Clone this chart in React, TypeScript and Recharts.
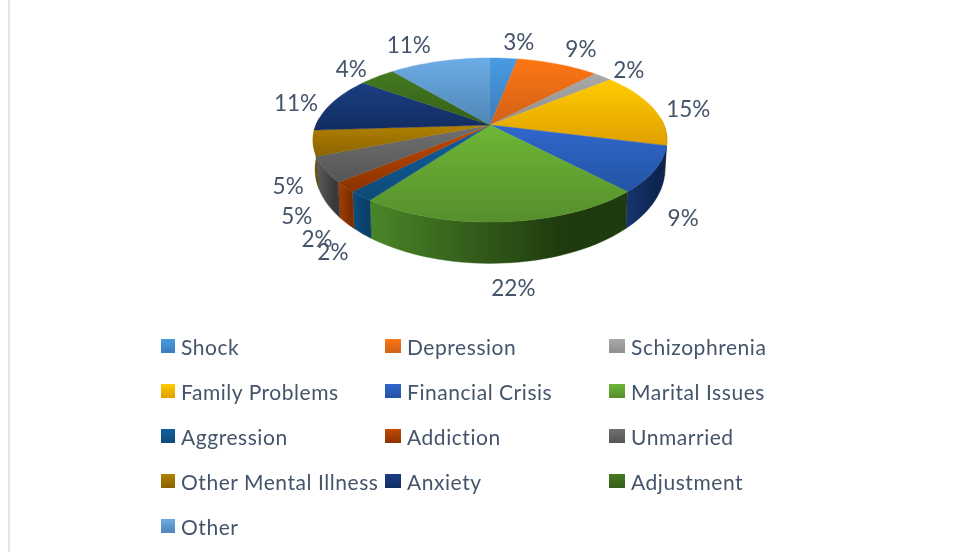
import { PieChart, Pie, Legend } from "recharts";

const categories = [
  "Shock",
  "Depression",
  "Schizophrenia",
  "Family Problems",
  "Financial Crisis",
  "Marital Issues",
  "Aggression",
  "Addiction",
  "Unmarried",
  "Other Mental Illness",
  "Anxiety",
  "Adjustment",
  "Other",
];
const shares = [3, 9, 2, 15, 9, 22, 2, 2, 5, 5, 11, 4, 11];

const faceLight = ["#4a9be2", "#ff7612", "#a9a9a9", "#ffcc00", "#3068cc", "#6db636", "#115f9e", "#c24a00", "#707070", "#b08000", "#1b3f84", "#457a20", "#6cace6"];
const faceDark = ["#3a7cbc", "#cf6018", "#8e8e8e", "#df9f00", "#2353a4", "#568f2c", "#0e4a78", "#8a3200", "#555555", "#8a6400", "#112c60", "#345f18", "#4f86b6"];
const wallLight = ["#2c6ba8", "#b8560f", "#777777", "#b88a00", "#16366f", "#4a8528", "#0e4f80", "#a63e00", "#5c5c5c", "#7d5c00", "#122c5c", "#2c5214", "#3f76a8"];
const wallDark = ["#1d4a78", "#7a3a0a", "#555555", "#7a5c00", "#0d2450", "#1f3a0e", "#0a3f68", "#7c2e00", "#3a3a3a", "#5c4400", "#0c1f42", "#1e3a0c", "#2c5680"];

// label offsets from the rim of each slice
const labelDx = [15, 23, 26, 35, 28, 10, -28, -28, -28, -25, -35, -26, -31];
const labelDy = [-17, -16, -7, 0, 48, 66, 55, 51, 46, 42, -1, -8, -17];

const tableRows = categories.map((name, id) => ({ name, id, value: shares[id] }));

const textColor = "#44546a";
const fontFamily = "Lato, 'Open Sans', sans-serif";

// fake perspective: top rim and bottom rim of the cylinder
const K = 0.183;
const TOP_Y = 0.456;
const BOTTOM_X = 172 / 174;
const BOTTOM_Y = 91 / 174;
const BOTTOM_SHIFT = 27;

const project = (cx: number, cy: number, r: number, deg: number, bottom = false) => {
  const rad = (deg * Math.PI) / 180;
  const u = Math.cos(rad);
  const v = -Math.sin(rad);
  const w = 1 - K * v;
  if (bottom) {
    return {
      x: cx + (r * BOTTOM_X * u) / w,
      y: cy + BOTTOM_SHIFT + (r * BOTTOM_Y * v) / w,
    };
  }
  return { x: cx + (r * u) / w, y: cy + (r * TOP_Y * v) / w };
};

const arcPoints = (cx: number, cy: number, r: number, from: number, to: number, bottom = false) => {
  const steps = Math.max(2, Math.ceil(Math.abs(to - from) / 2));
  const pts: string[] = [];
  for (let i = 0; i <= steps; i++) {
    const p = project(cx, cy, r, from + ((to - from) * i) / steps, bottom);
    pts.push(`${p.x.toFixed(2)} ${p.y.toFixed(2)}`);
  }
  return pts;
};

// side wall, only the front part of the disc shows it
const WallSlice = (props: any) => {
  const { cx, cy, outerRadius, startAngle, endAngle, id } = props;
  const from = Math.min(startAngle, 5);
  const to = Math.max(endAngle, -185);
  if (from <= to) return <g />;
  const top = arcPoints(cx, cy, outerRadius, from, to);
  const bottom = arcPoints(cx, cy, outerRadius, to, from, true);
  return <path d={`M${top.join("L")}L${bottom.join("L")}Z`} fill={`url(#wall${id})`} stroke={`url(#wall${id})`} strokeWidth={0.4} />;
};

const FaceSlice = (props: any) => {
  const { cx, cy, outerRadius, startAngle, endAngle, id } = props;
  const face = arcPoints(cx, cy, outerRadius, startAngle, endAngle);
  return <path d={`M${cx} ${cy}L${face.join("L")}Z`} fill={`url(#face${id})`} stroke={`url(#face${id})`} strokeWidth={0.4} />;
};

const renderLabel = (props: any) => {
  const { cx, cy, outerRadius, midAngle, index } = props;
  const rim = project(cx, cy, outerRadius, midAngle);
  return (
    <text
      x={rim.x + labelDx[index]}
      y={rim.y + labelDy[index]}
      textAnchor="middle"
      dominantBaseline="central"
      fill={textColor}
      fontFamily={fontFamily}
      fontSize={22.5}
    >
      {`${shares[index]}%`}
    </text>
  );
};

const renderLegend = (props: any) => {
  // both pies report their rows, the first set is enough
  const items = (props.payload ?? []).slice(0, categories.length);
  return (
    <div style={{ position: "absolute", left: 161, top: 324, display: "grid", gridTemplateColumns: "224px 224px 224px", gridAutoRows: "45px" }}>
      {items.map((item: any, i: number) => {
        const id = categories.indexOf(item.value);
        const swatchWidth = i % 3 === 0 ? 14 : 16;
        return (
          <div key={i} style={{ display: "flex", alignItems: "center", height: 45 }}>
            <svg width={swatchWidth} height={14} style={{ marginRight: 6, marginTop: -2, flex: "none" }}>
              <rect width={swatchWidth} height={14} fill={`url(#face${id})`} />
            </svg>
            <span style={{ color: textColor, fontFamily, fontSize: 21, letterSpacing: 0.55, whiteSpace: "nowrap" }}>
              {item.value}
            </span>
          </div>
        );
      })}
    </div>
  );
};

export default function App() {
  return (
    <div style={{ position: "absolute", left: 0, top: 0, width: 958, height: 552, background: "#fff", overflow: "hidden", filter: "blur(0.5px)" }}>
      <div style={{ position: "absolute", left: 8, top: 0, width: 2, height: 552, background: "#e1e5ec" }} />
      {/* gradient defs shared by the slices and the legend swatches */}
      <svg width={0} height={0} style={{ position: "absolute" }}>
        <defs>
          {categories.map((_, i) => (
            <linearGradient key={`f${i}`} id={`face${i}`} x1="0" y1="0" x2="0" y2="1">
              <stop offset="0%" stopColor={faceLight[i]} />
              <stop offset="100%" stopColor={faceDark[i]} />
            </linearGradient>
          ))}
          {categories.map((_, i) => (
            <linearGradient key={`w${i}`} id={`wall${i}`} x1="0" y1="0" x2="1" y2="0">
              <stop offset="0%" stopColor={wallLight[i]} />
              <stop offset="75%" stopColor={wallDark[i]} />
              <stop offset="100%" stopColor={wallDark[i]} />
            </linearGradient>
          ))}
        </defs>
      </svg>
      <PieChart width={958} height={552} margin={{ top: 0, right: 0, bottom: 0, left: 0 }} style={{ position: "absolute", left: 0, top: 0 }}>
        <Pie
          data={tableRows}
          dataKey="value"
          nameKey="name"
          cx={490}
          cy={125}
          outerRadius={174}
          startAngle={90}
          endAngle={-270}
          stroke="none"
          shape={WallSlice}
          legendType="none"
          isAnimationActive={false}
        />
        <Pie
          data={tableRows}
          dataKey="value"
          nameKey="name"
          cx={490}
          cy={125}
          outerRadius={174}
          startAngle={90}
          endAngle={-270}
          stroke="none"
          shape={FaceSlice}
          label={renderLabel}
          labelLine={false}
          isAnimationActive={false}
        />
        <Legend
          content={renderLegend}
          itemSorter={null}
          wrapperStyle={{ position: "absolute", left: 0, top: 0, width: 958, height: 552 }}
        />
      </PieChart>
    </div>
  );
}
